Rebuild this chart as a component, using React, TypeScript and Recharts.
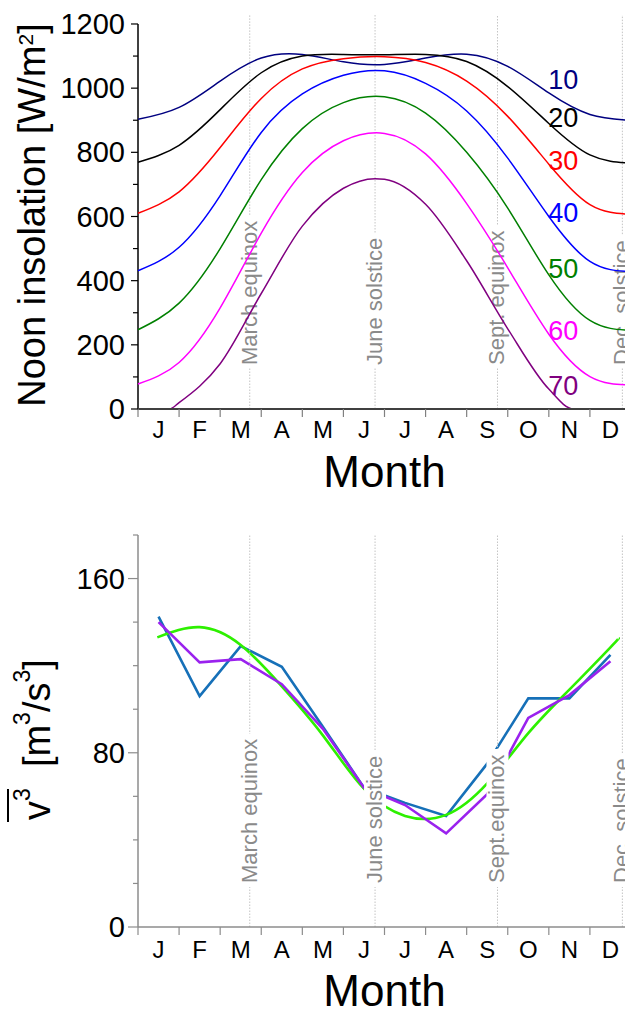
import React from 'react';
import { LineChart, Line, XAxis, YAxis, ReferenceLine, ReferenceDot } from 'recharts';

const FONT = '"Liberation Sans", Arial, Helvetica, sans-serif';

const monthLetters = ['J', 'F', 'M', 'A', 'M', 'J', 'J', 'A', 'S', 'O', 'N', 'D'];
// month boundaries + mid-month label positions (axis is in months, Jan 1 = 0)
const monthTicks = [0, 0.5, 1, 1.5, 2, 2.5, 3, 3.5, 4, 4.5, 5, 5.5, 6, 6.5, 7, 7.5, 8, 8.5, 9, 9.5, 10, 10.5, 11, 11.5, 12];

// ---- top: noon insolation [W/m2] per latitude ----
const months = [0, 1, 2, 3, 4, 5, 6, 7, 8, 9, 10, 11, 12];
const lat10 = [903, 940, 1022, 1094, 1105, 1082, 1074, 1094, 1106, 1068, 985, 918, 900];
const lat20 = [769, 822, 933, 1048, 1100, 1105, 1104, 1105, 1083, 1005, 890, 792, 766];
const lat30 = [610, 677, 815, 968, 1060, 1092, 1098, 1080, 1022, 912, 763, 637, 607];
const lat40 = [431, 504, 665, 862, 982, 1040, 1054, 1015, 929, 782, 600, 460, 428];
const lat50 = [247, 330, 500, 715, 874, 955, 973, 922, 800, 626, 418, 276, 245];
const lat60 = [78, 145, 315, 548, 737, 836, 859, 795, 640, 440, 233, 101, 75];
const months70 = [0, 0.77, 1, 2, 3, 4, 5, 5.77, 6, 7, 8, 9, 10, 10.6, 11, 12];
const lat70 = [0, 0, 20, 141, 360, 570, 688, 718, 716, 638, 462, 250, 62, 0, 0, 0];

const insolTicks = [0, 100, 200, 300, 400, 500, 600, 700, 800, 900, 1000, 1100, 1200];

const latSeries = [
  { key: 'lat10', name: '10', color: '#000080' },
  { key: 'lat20', name: '20', color: '#000000' },
  { key: 'lat30', name: '30', color: '#ff0000' },
  { key: 'lat40', name: '40', color: '#0000ff' },
  { key: 'lat50', name: '50', color: '#008000' },
  { key: 'lat60', name: '60', color: '#ff00ff' },
];
const lat70Color = '#800080';
// where the latitude numbers sit (month, W/m2 at text baseline)
const latLabelX = 10.35;
const latLabelY = [997, 880, 745, 584, 408, 215, 44];

const topRows = months.map((m, i) => ({
  m,
  lat10: lat10[i],
  lat20: lat20[i],
  lat30: lat30[i],
  lat40: lat40[i],
  lat50: lat50[i],
  lat60: lat60[i],
}));
const rows70 = months70.map((m, i) => ({ m, v: lat70[i] }));

// ---- bottom: mean cubed wind speed ----
const midMonths = [0.5, 1.5, 2.5, 3.5, 4.5, 5.5, 6.5, 7.5, 8.5, 9.5, 10.5, 11.5];
const windBlue = [142.5, 106, 129, 119.5, 92, 64, 57, 51, 75, 105, 105, 125];
const windPurple = [140, 121.5, 123, 111.5, 91, 64, 56, 43, 61, 96, 106.5, 122];
const fitMonths = [0.47, 1.5, 2.5, 3.5, 4.5, 5.5, 6.5, 7.5, 8.5, 9.5, 10.5, 11.5, 11.7];
const windFit = [133, 137.7, 129.5, 110.5, 88, 63.5, 51, 51.5, 66, 89, 109, 128.4, 132.6];

const windTicks = [0, 20, 40, 60, 80, 100, 120, 140, 160, 180];

const bottomRows = midMonths.map((m, i) => ({ m, blue: windBlue[i], purple: windPurple[i] }));
const fitRows = fitMonths.map((m, i) => ({ m, v: windFit[i] }));

// top chart: dotted line stops below / resumes above the rotated text (W/m2)
const topEvents = [
  { x: 2.72, text: 'March equinox', gapLow: 130, gapHigh: 605 },
  { x: 5.77, text: 'June solstice', gapLow: 130, gapHigh: 550 },
  { x: 8.75, text: 'Sept. equinox', gapLow: 130, gapHigh: 575 },
  { x: 11.79, text: 'Dec. solstice', gapLow: 130, gapHigh: 545 },
];
const bottomEvents = [
  { x: 2.72, text: 'March equinox', len: 144 },
  { x: 5.77, text: 'June solstice', len: 127 },
  { x: 8.75, text: 'Sept.equinox', len: 129 },
  { x: 11.79, text: 'Dec. solstice', len: 125 },
];

function MonthTick(props: any) {
  const { x, y, payload, labelDy, tickColor } = props;
  const v = payload.value;
  if (Number.isInteger(v)) {
    return <line x1={x} y1={y} x2={x} y2={y + 8} stroke={tickColor} strokeWidth={1.2} />;
  }
  return (
    <text x={x} y={y + labelDy} textAnchor="middle" fontSize={24} fill="#000" fontFamily={FONT}>
      {monthLetters[Math.floor(v)]}
    </text>
  );
}

function ValueTick(props: any) {
  const { x, y, payload, major, majorLen, minorLen, gap, tickColor } = props;
  const v = payload.value;
  const isMajor = v % major === 0;
  return (
    <g>
      <line x1={x} y1={y} x2={x - (isMajor ? majorLen : minorLen)} y2={y} stroke={tickColor} strokeWidth={1.2} />
      {isMajor && (
        <text x={x - majorLen - gap} y={y} dy="0.35em" textAnchor="end" fontSize={29} fill="#000" fontFamily={FONT}>
          {v}
        </text>
      )}
    </g>
  );
}

function MonthTitle(props: any) {
  const vb = props.viewBox || { x: 138, y: 409, width: 493, height: 91 };
  return (
    <text x={vb.x + vb.width / 2} y={vb.y + props.dy} textAnchor="middle" fontSize={44} fill="#000" fontFamily={FONT}>
      Month
    </text>
  );
}

function InsolationTitle(props: any) {
  const vb = props.viewBox || { x: 0, y: 15, width: 138, height: 394 };
  const cx = vb.x + 45;
  const cy = vb.y + vb.height / 2 + 3;
  return (
    <g transform={`translate(${cx},${cy}) rotate(-90)`}>
      <text x={0} y={0} textAnchor="middle" fontSize={38} fill="#000" fontFamily={FONT}>
        {'Noon insolation [W/m'}
        <tspan dy={-12} fontSize={21}>2</tspan>
        <tspan dy={12}>]</tspan>
      </text>
    </g>
  );
}

function WindTitle(props: any) {
  const vb = props.viewBox || { x: 0, y: 35, width: 138, height: 392 };
  const bx = vb.x + 50;
  const by = vb.y + vb.height / 2 + 89;
  return (
    <g transform={`translate(${bx},${by}) rotate(-90)`}>
      <line x1={-2} x2={31} y1={-42} y2={-42} stroke="#000" strokeWidth={2} />
      <text x={0} y={0} fontSize={38} fill="#000" fontFamily={FONT}>
        v
        <tspan dy={-20} fontSize={23}>3</tspan>
        <tspan dy={20}>{'\u00a0\u00a0[m'}</tspan>
        <tspan dy={-20} fontSize={23}>3</tspan>
        <tspan dy={20}>/s</tspan>
        <tspan dy={-20} fontSize={23}>3</tspan>
        <tspan dy={20}>]</tspan>
      </text>
    </g>
  );
}

function EventLabel(props: any) {
  const { viewBox, text, len, bg } = props;
  if (!viewBox) return null;
  const x = viewBox.x;
  const start = viewBox.y + viewBox.height - 44;
  return (
    <g>
      {bg && <rect x={x - 11} y={start - len - 5} width={22} height={len + 9} fill="#fff" />}
      <text transform={`translate(${x + 7},${start}) rotate(-90)`} fontSize={22} fill="#8a8a8a" fontFamily={FONT}>
        {text}
      </text>
    </g>
  );
}

export default function App() {
  return (
    <div
      style={{
        position: 'absolute',
        left: 0,
        top: 0,
        width: 625,
        height: 1010,
        overflow: 'hidden',
        background: '#fff',
        fontFamily: FONT,
      }}
    >
      <LineChart width={640} height={500} data={topRows} margin={{ top: 15, right: 9, bottom: 0, left: 0 }}>
        <XAxis
          type="number"
          dataKey="m"
          domain={[0, 12]}
          ticks={monthTicks}
          interval={0}
          tickSize={0}
          tickMargin={0}
          tickLine={false}
          tick={<MonthTick labelDy={29} tickColor="#808080" />}
          axisLine={{ stroke: '#404040', strokeWidth: 1.8 }}
          height={91}
          label={<MonthTitle dy={78} />}
        />
        <YAxis
          type="number"
          domain={[0, 1228]}
          ticks={insolTicks}
          interval={0}
          tickSize={0}
          tickMargin={0}
          tickLine={false}
          axisLine={false}
          tick={<ValueTick major={200} majorLen={7} minorLen={5} gap={6} tickColor="#000" />}
          width={138}
          label={<InsolationTitle />}
        />
        <ReferenceLine
          segment={[{ x: 0, y: 0 }, { x: 0, y: 1200 }]}
          stroke="#000"
          strokeWidth={1.5}
          ifOverflow="visible"
        />
        {topEvents.map((e) => (
          <ReferenceLine
            key={e.text + 'lo'}
            segment={[{ x: e.x, y: 0 }, { x: e.x, y: e.gapLow }]}
            stroke="#c4c4c4"
            strokeDasharray="1.5 1.5"
          />
        ))}
        {topEvents.map((e) => (
          <ReferenceLine
            key={e.text + 'hi'}
            segment={[{ x: e.x, y: e.gapHigh }, { x: e.x, y: 1228 }]}
            stroke="#c4c4c4"
            strokeDasharray="1.5 1.5"
          />
        ))}
        {topEvents.map((e) => (
          <ReferenceLine
            key={e.text}
            x={e.x}
            stroke="none"
            label={<EventLabel text={e.text} bg={false} />}
          />
        ))}
        {latSeries.map((s) => (
          <Line
            key={s.key}
            type="natural"
            dataKey={s.key}
            stroke={s.color}
            strokeWidth={1.5}
            dot={false}
            isAnimationActive={false}
          />
        ))}
        <Line
          data={rows70}
          type="monotone"
          dataKey="v"
          stroke={lat70Color}
          strokeWidth={1.5}
          dot={false}
          isAnimationActive={false}
        />
        {[...latSeries, { key: 'lat70', name: '70', color: lat70Color }].map((s, i) => (
          <ReferenceDot
            key={'lbl' + s.key}
            x={latLabelX}
            y={latLabelY[i]}
            r={0}
            ifOverflow="visible"
            shape={(p: any) => (
              <text x={p.cx} y={p.cy} textAnchor="middle" fontSize={27} fill={s.color} fontFamily={FONT}>
                {s.name}
              </text>
            )}
          />
        ))}
      </LineChart>

      <div style={{ position: 'absolute', left: 0, top: 500 }}>
        <LineChart width={640} height={510} data={bottomRows} margin={{ top: 35, right: 9, bottom: 0, left: 0 }}>
          <XAxis
            type="number"
            dataKey="m"
            domain={[0, 12]}
            ticks={monthTicks}
            interval={0}
            tickSize={0}
            tickMargin={0}
            tickLine={false}
            tick={<MonthTick labelDy={31} tickColor="#8c8c8c" />}
            axisLine={{ stroke: '#8c8c8c', strokeWidth: 1.5 }}
            height={83}
            label={<MonthTitle dy={79} />}
          />
          <YAxis
            type="number"
            domain={[0, 180]}
            ticks={windTicks}
            interval={0}
            tickSize={0}
            tickMargin={0}
            tickLine={false}
            axisLine={{ stroke: '#8c8c8c', strokeWidth: 1.5 }}
            tick={<ValueTick major={80} majorLen={10} minorLen={5} gap={3} tickColor="#8c8c8c" />}
            width={138}
            label={<WindTitle />}
          />
          <Line
            type="linear"
            dataKey="blue"
            stroke="#1670b8"
            strokeWidth={2.6}
            dot={false}
            isAnimationActive={false}
          />
          <Line
            data={fitRows}
            type="natural"
            dataKey="v"
            stroke="#2ef000"
            strokeWidth={2.6}
            dot={false}
            isAnimationActive={false}
          />
          <Line
            type="linear"
            dataKey="purple"
            stroke="#9a22ee"
            strokeWidth={2.6}
            dot={false}
            isAnimationActive={false}
          />
          {bottomEvents.map((e) => (
            <ReferenceLine
              key={e.text}
              x={e.x}
              stroke="#c4c4c4"
              strokeDasharray="1.5 1.5"
              label={<EventLabel text={e.text} len={e.len} bg={true} />}
            />
          ))}
        </LineChart>
      </div>
    </div>
  );
}
